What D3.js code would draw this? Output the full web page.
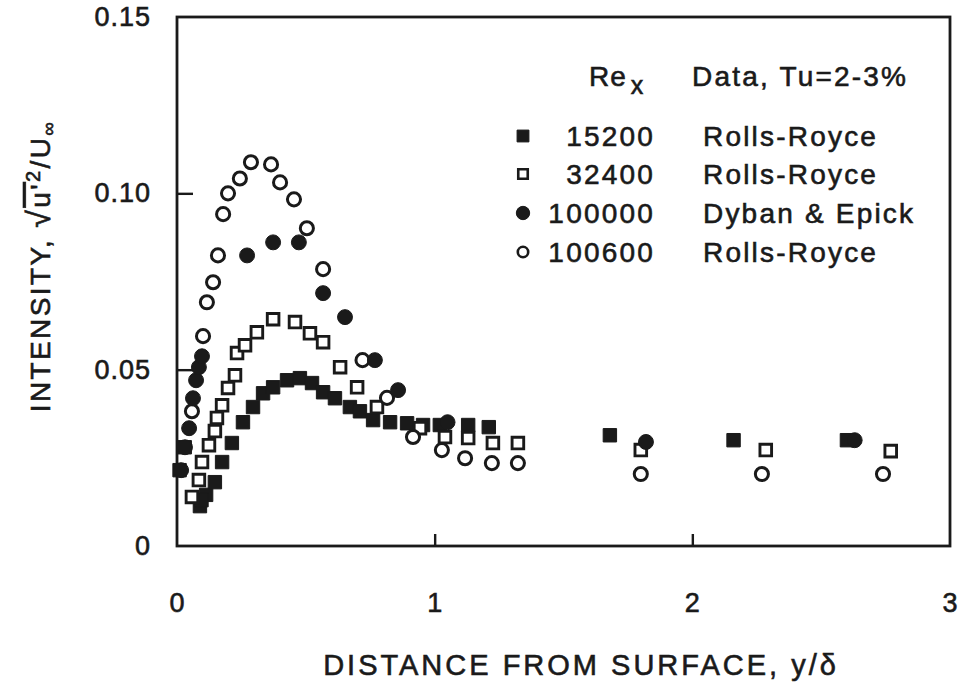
<!DOCTYPE html>
<html>
<head>
<meta charset="utf-8">
<script src="https://cdn.jsdelivr.net/npm/d3@7"></script>
<style>
  html, body { margin: 0; padding: 0; background: #fff; }
  svg { display: block; }
  text { font-family: "Liberation Sans", Arial, Helvetica, sans-serif; fill: #1a1a1a;
         stroke: #1a1a1a; stroke-width: 0.6px; }
</style>
</head>
<body>
<svg id="chart" width="966" height="690"></svg>
<script>
// ---------- data ----------
const xTicks = [0, 1, 2, 3];
const yTicks = [0, 0.05, 0.10, 0.15];
const yTickLabels = ["0", "0.05", "0.10", "0.15"];

const reLabels = ["15200", "32400", "100000", "100600"];
const sourceLabels = ["Rolls-Royce", "Rolls-Royce", "Dyban & Epick", "Rolls-Royce"];

// Re_x = 15200, Rolls-Royce (filled squares)
const s15200 = [
  [0.089, 0.0113], [0.113, 0.0145], [0.147, 0.0181], [0.175, 0.0238], [0.213, 0.0292],
  [0.256, 0.0351], [0.295, 0.0394], [0.334, 0.0433], [0.373, 0.0450], [0.427, 0.0470],
  [0.477, 0.0476], [0.524, 0.0462], [0.567, 0.0436], [0.613, 0.0419], [0.671, 0.0394],
  [0.710, 0.0382], [0.761, 0.0357], [0.827, 0.0351], [0.893, 0.0348], [0.955, 0.0343],
  [1.02, 0.0343], [1.13, 0.0343], [1.21, 0.0337], [1.68, 0.0314], [2.16, 0.0300],
  [2.60, 0.0300], [0.030, 0.0280], [0.010, 0.0215], [0.095, 0.0130]
];
// Re_x = 32400, Rolls-Royce (open squares)
const s32400 = [
  [0.058, 0.0139], [0.085, 0.0187], [0.097, 0.0238], [0.124, 0.0286], [0.147, 0.0326],
  [0.155, 0.0363], [0.175, 0.0399], [0.198, 0.0448], [0.225, 0.0484], [0.233, 0.0547],
  [0.264, 0.0569], [0.310, 0.0606], [0.373, 0.0643], [0.458, 0.0635], [0.516, 0.0603],
  [0.567, 0.0578], [0.633, 0.0507], [0.699, 0.0450], [0.776, 0.0394], [0.943, 0.0334],
  [1.04, 0.0309], [1.13, 0.0306], [1.226, 0.0292], [1.323, 0.0292], [1.80, 0.0272],
  [2.285, 0.0272], [2.77, 0.0269]
];
// Re_x = 100000, Dyban & Epick (filled circles)
const s100000 = [
  [0.016, 0.0215], [0.031, 0.0280], [0.047, 0.0334], [0.062, 0.0419], [0.074, 0.0470],
  [0.085, 0.0507], [0.097, 0.0538], [0.272, 0.0824], [0.373, 0.0861], [0.473, 0.0861],
  [0.567, 0.0717], [0.652, 0.0649], [0.768, 0.0527], [0.858, 0.0442], [1.05, 0.0351],
  [1.82, 0.0295], [2.63, 0.0300]
];
// Re_x = 100600, Rolls-Royce (open circles)
const s100600 = [
  [0.058, 0.0382], [0.101, 0.0595], [0.116, 0.0691], [0.140, 0.0748], [0.159, 0.0824],
  [0.179, 0.0941], [0.198, 0.1000], [0.244, 0.1042], [0.287, 0.1088], [0.365, 0.1082],
  [0.400, 0.1031], [0.454, 0.0983], [0.504, 0.0901], [0.567, 0.0785], [0.720, 0.0527],
  [0.815, 0.0420], [0.916, 0.0309], [1.028, 0.0272], [1.118, 0.0249], [1.222, 0.0235],
  [1.323, 0.0235], [1.80, 0.0204], [2.27, 0.0204], [2.74, 0.0204]
];

// ---------- layout ----------
const svg = d3.select("#chart");
const ink = "#1a1a1a";
const M = { left: 177, right: 950, top: 17, bottom: 546 };

const x = d3.scaleLinear().domain([0, 3]).range([M.left, M.right]);
const y = d3.scaleLinear().domain([0, 0.15]).range([M.bottom, M.top]);

// frame
svg.append("rect")
  .attr("x", M.left).attr("y", M.top)
  .attr("width", M.right - M.left).attr("height", M.bottom - M.top)
  .attr("fill", "none").attr("stroke", ink).attr("stroke-width", 2.8);

// x axis (ticks inward, labels below)
const xAxis = d3.axisBottom(x).tickValues(xTicks).tickSize(-12).tickPadding(47)
  .tickFormat(d3.format("d"));
const gx = svg.append("g").attr("transform", `translate(0,${M.bottom})`).call(xAxis);
gx.select(".domain").remove();
gx.selectAll(".tick line").attr("stroke", ink).attr("stroke-width", 2.4)
  .filter(d => d === 0 || d === 3).remove();
gx.selectAll(".tick text").attr("font-size", 27).attr("letter-spacing", 1)
  .attr("fill", ink).attr("font-family", "'Liberation Sans', Arial, sans-serif");

// y axis
const yAxis = d3.axisLeft(y).tickValues(yTicks).tickSize(-16).tickPadding(26)
  .tickFormat((d, i) => yTickLabels[i]);
const gy = svg.append("g").attr("transform", `translate(${M.left},0)`).call(yAxis);
gy.select(".domain").remove();
gy.selectAll(".tick line").attr("stroke", ink).attr("stroke-width", 2.4)
  .filter(d => d === 0 || d === 0.15).remove();
gy.selectAll(".tick text").attr("font-size", 27).attr("letter-spacing", 1)
  .attr("fill", ink).attr("font-family", "'Liberation Sans', Arial, sans-serif");

// axis titles
svg.append("text")
  .attr("x", 581).attr("y", 675)
  .attr("text-anchor", "middle").attr("font-size", 29).attr("letter-spacing", 3)
  .text("DISTANCE FROM SURFACE, y/δ");

const yt = svg.append("text")
  .attr("transform", "translate(50,266) rotate(-90)")
  .attr("text-anchor", "middle").attr("font-size", 28).attr("letter-spacing", 2.4);
yt.append("tspan").text("INTENSITY, ");
yt.append("tspan").attr("font-size", 32).text("√");
yt.append("tspan").style("text-decoration", "overline").text("u'");
yt.append("tspan").attr("dy", -10).attr("font-size", 20).text("2");
yt.append("tspan").attr("dy", 10).text("/U");
yt.append("tspan").attr("dy", 5).attr("font-size", 19).text("∞");

// ---------- markers ----------
function drawSeries(data, type, filled, size, sw) {
  const sym = d3.symbol().type(type).size(size);
  svg.append("g").selectAll("path").data(data).join("path")
    .attr("transform", d => `translate(${x(d[0])},${y(d[1])})`)
    .attr("d", sym)
    .attr("fill", filled ? ink : "#fff")
    .attr("stroke", ink)
    .attr("stroke-width", sw);
}
drawSeries(s15200, d3.symbolSquare, true, 180, 1);
drawSeries(s32400, d3.symbolSquare, false, 135, 2.9);
drawSeries(s100600, d3.symbolCircle, false, 135, 3);
drawSeries(s100000, d3.symbolCircle, true, 175, 1);

// ---------- legend ----------
const legX = 523, numRight = 655, nameX = 703;
const rowY = [136, 174, 213, 252];
const legTypes = [
  { t: d3.symbolSquare, f: true, s: 140 },
  { t: d3.symbolSquare, f: false, s: 90 },
  { t: d3.symbolCircle, f: true, s: 140 },
  { t: d3.symbolCircle, f: false, s: 85 }
];

const hdr = svg.append("text").attr("x", 589).attr("y", 86)
  .attr("font-size", 28).attr("letter-spacing", 1);
hdr.append("tspan").text("Re");
hdr.append("tspan").attr("dy", 8).attr("dx", 4).attr("font-size", 25).text("x");
svg.append("text").attr("x", 692).attr("y", 86)
  .attr("font-size", 28).attr("letter-spacing", 2.2).text("Data, Tu=2-3%");

reLabels.forEach((lab, i) => {
  const lt = legTypes[i];
  svg.append("path")
    .attr("transform", `translate(${legX},${rowY[i]})`)
    .attr("d", d3.symbol().type(lt.t).size(lt.s))
    .attr("fill", lt.f ? ink : "#fff").attr("stroke", ink)
    .attr("stroke-width", lt.f ? 1 : 2.6);
  svg.append("text").attr("x", numRight).attr("y", rowY[i] + 10)
    .attr("text-anchor", "end").attr("font-size", 28).attr("letter-spacing", 2.2)
    .text(lab);
  svg.append("text").attr("x", nameX).attr("y", rowY[i] + 10)
    .attr("font-size", 28).attr("letter-spacing", 2.2)
    .text(sourceLabels[i]);
});
</script>
</body>
</html>
